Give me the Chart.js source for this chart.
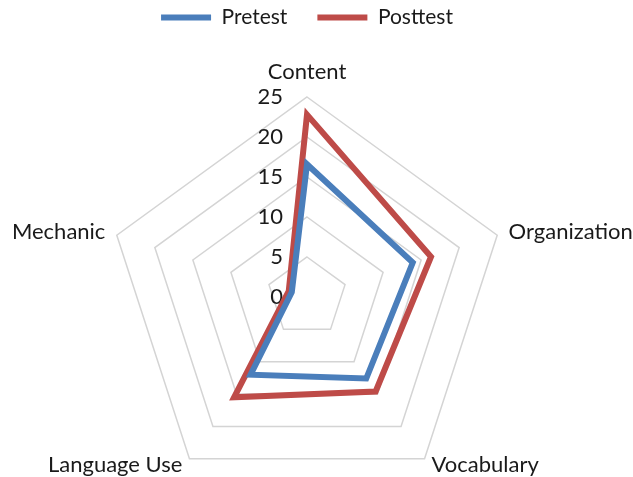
<!DOCTYPE html>
<html>
<head>
<meta charset="utf-8">
<script src="https://cdn.jsdelivr.net/npm/chart.js@4.4.1/dist/chart.umd.min.js"></script>
<style>
  html, body { margin: 0; padding: 0; background: #fff; }
  #wrap { width: 633px; height: 477px; }
</style>
</head>
<body>
<div id="wrap"><canvas id="chart"></canvas></div>
<script>
const CATEGORIES = ["Content", "Organization", "Vocabulary", "Language Use", "Mechanic"];
const PRETEST = [16.6, 13.9, 12.6, 12.0, 2.0];
const POSTTEST = [22.8, 16.3, 14.6, 15.5, 2.4];
const SCALE_MIN = 0;
const SCALE_MAX = 25;
const SCALE_STEP = 5;

const FONT = "Lato, 'Open Sans', sans-serif";
const TEXT_COLOR = "#1a1a1a";

// tick labels (incl. the 0 at the centre) and axis names, placed from the scale
const radarText = {
  id: "radarText",
  beforeDatasetsDraw(chart) {
    const scale = chart.scales.r;
    const ctx = chart.ctx;
    ctx.save();
    ctx.font = "22px " + FONT;
    ctx.fillStyle = TEXT_COLOR;
    ctx.textAlign = "right";
    ctx.textBaseline = "middle";
    scale.ticks.forEach((t) => {
      const d = scale.getDistanceFromCenterForValue(t.value);
      ctx.fillText(t.label, scale.xCenter - 24, scale.yCenter - d);
    });
    ctx.restore();
  },
  afterDraw(chart) {
    const scale = chart.scales.r;
    const ctx = chart.ctx;
    ctx.save();
    ctx.font = "22px " + FONT;
    ctx.fillStyle = TEXT_COLOR;
    chart.data.labels.forEach((lab, i) => {
      const p = scale.getPointPosition(i, scale.drawingArea + 12);
      const dx = p.x - scale.xCenter;
      const dy = p.y - scale.yCenter;
      const top = Math.abs(dx) < 1;
      ctx.textAlign = top ? "center" : dx > 0 ? "left" : "right";
      ctx.textBaseline = top ? "bottom" : "middle";
      let y = p.y;
      if (top) y -= 2;
      else if (dy > 0) y -= 4;
      ctx.fillText(lab, p.x, y);
    });
    ctx.restore();
  },
};

new Chart(document.getElementById("chart"), {
  type: "radar",
  data: {
    labels: CATEGORIES,
    datasets: [
      {
        label: "Pretest",
        data: PRETEST,
        borderColor: "#4a7ebb",
        backgroundColor: "#4a7ebb",
        borderWidth: 6,
        borderJoinStyle: "miter",
        borderCapStyle: "round",
        fill: false,
        pointRadius: 0,
        pointHoverRadius: 0,
      },
      {
        label: "Posttest",
        data: POSTTEST,
        borderColor: "#be4b48",
        backgroundColor: "#be4b48",
        borderWidth: 6,
        borderJoinStyle: "miter",
        borderCapStyle: "round",
        fill: false,
        pointRadius: 0,
        pointHoverRadius: 0,
      },
    ],
  },
  options: {
    responsive: true,
    maintainAspectRatio: false,
    animation: false,
    layout: { padding: { left: 107, right: 126, top: -23, bottom: 0 } },
    scales: {
      r: {
        min: SCALE_MIN,
        max: SCALE_MAX,
        ticks: { stepSize: SCALE_STEP, display: false },
        grid: { color: "#d4d4d4", lineWidth: 1.5, circular: false },
        angleLines: { display: false },
        pointLabels: { display: false },
        // push the web down under the legend, radius stays at half the width
        afterFit: (scale) => { scale.yCenter += 40; },
      },
    },
    plugins: {
      legend: {
        position: "top",
        labels: {
          usePointStyle: true,
          pointStyle: "line",
          pointStyleWidth: 50,
          padding: 30,
          color: TEXT_COLOR,
          font: { family: FONT, size: 21 },
        },
      },
      tooltip: { enabled: false },
    },
  },
  plugins: [radarText],
});
</script>
</body>
</html>
